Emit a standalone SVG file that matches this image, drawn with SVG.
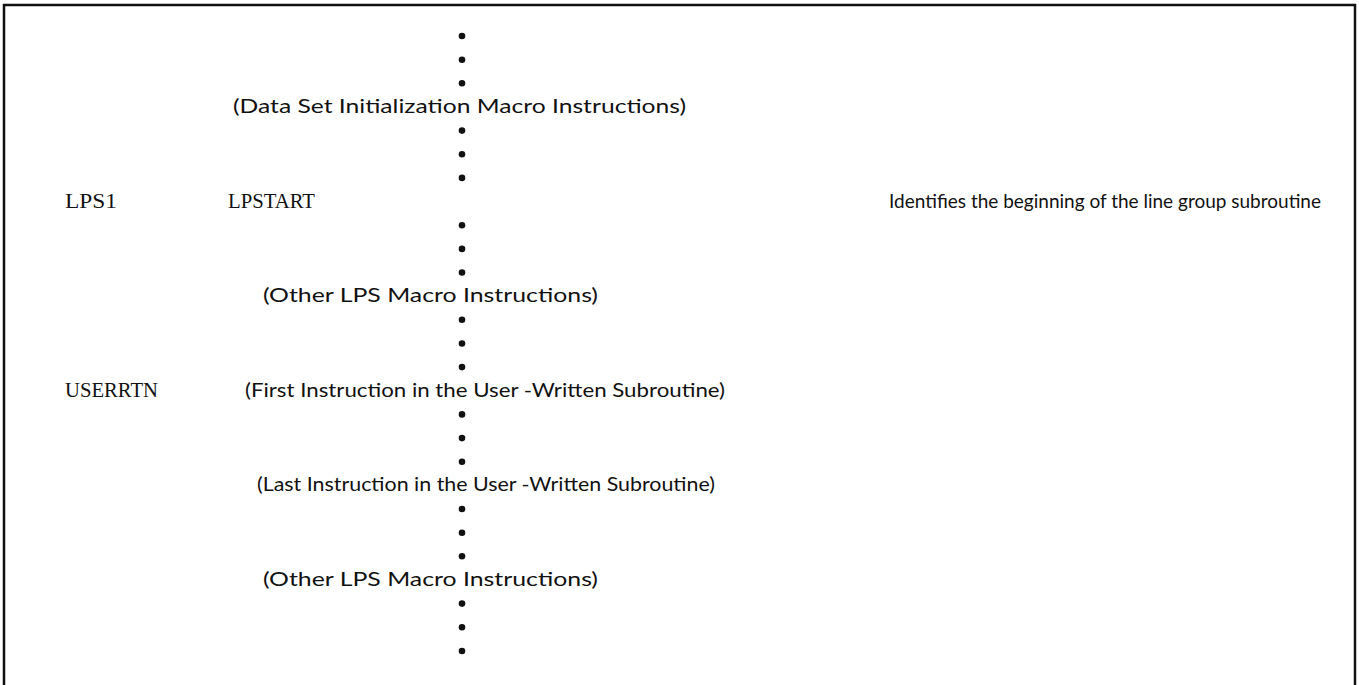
<svg xmlns="http://www.w3.org/2000/svg" width="1359" height="685" viewBox="0 0 1359 685">
  <style>
    .sans { font-family: "Lato", "Liberation Sans", sans-serif; font-size: 19px; fill: #111; }
    .mono { font-family: "Liberation Serif", "DejaVu Serif", serif; font-size: 20px; fill: #111; }
    .dot { fill: #111; }
    .frame { fill: none; stroke: #111; stroke-width: 2.5; }
  </style>
  <rect width="1359" height="685" fill="#fff"/>
  <!-- open frame: left, top and right edges -->
  <path class="frame" d="M4,685 V5 H1355 V685"/>

  <!-- ellipsis dots in the centre column -->
  <g id="dots">
    <circle class="dot" cx="462" cy="36" r="3.3"/>
    <circle class="dot" cx="462" cy="59.7" r="3.3"/>
    <circle class="dot" cx="462" cy="83.3" r="3.3"/>
    <circle class="dot" cx="462" cy="130.6" r="3.3"/>
    <circle class="dot" cx="462" cy="154.3" r="3.3"/>
    <circle class="dot" cx="462" cy="177.9" r="3.3"/>
    <circle class="dot" cx="462" cy="225.2" r="3.3"/>
    <circle class="dot" cx="462" cy="248.9" r="3.3"/>
    <circle class="dot" cx="462" cy="272.5" r="3.3"/>
    <circle class="dot" cx="462" cy="319.8" r="3.3"/>
    <circle class="dot" cx="462" cy="343.5" r="3.3"/>
    <circle class="dot" cx="462" cy="367.1" r="3.3"/>
    <circle class="dot" cx="462" cy="414.4" r="3.3"/>
    <circle class="dot" cx="462" cy="438.1" r="3.3"/>
    <circle class="dot" cx="462" cy="461.7" r="3.3"/>
    <circle class="dot" cx="462" cy="509" r="3.3"/>
    <circle class="dot" cx="462" cy="532.7" r="3.3"/>
    <circle class="dot" cx="462" cy="556.3" r="3.3"/>
    <circle class="dot" cx="462" cy="603.6" r="3.3"/>
    <circle class="dot" cx="462" cy="627.3" r="3.3"/>
    <circle class="dot" cx="462" cy="651" r="3.3"/>
  </g>

  <g id="data-set-init">
    <text class="sans" x="233" y="113" textLength="453" lengthAdjust="spacingAndGlyphs">(Data Set Initialization Macro  Instructions)</text>
  </g>

  <g id="lpstart">
    <text class="mono" x="65" y="208" textLength="52" lengthAdjust="spacingAndGlyphs">LPS1</text>
    <text class="mono" x="228" y="208" textLength="87" lengthAdjust="spacingAndGlyphs">LPSTART</text>
    <text class="sans" x="889" y="208" textLength="432" lengthAdjust="spacingAndGlyphs">Identifies the beginning of the line group subroutine</text>
  </g>

  <g id="other-lps-1">
    <text class="sans" x="263" y="302" textLength="335" lengthAdjust="spacingAndGlyphs">(Other LPS Macro  Instructions)</text>
  </g>

  <g id="userrtn">
    <text class="mono" x="65" y="397" textLength="93" lengthAdjust="spacingAndGlyphs">USERRTN</text>
    <text class="sans" x="245" y="397" textLength="480" lengthAdjust="spacingAndGlyphs">(First Instruction in the User -Written Subroutine)</text>
  </g>

  <g id="last-instruction">
    <text class="sans" x="257" y="491" textLength="458" lengthAdjust="spacingAndGlyphs">(Last Instruction in the User -Written Subroutine)</text>
  </g>

  <g id="other-lps-2">
    <text class="sans" x="263" y="586" textLength="335" lengthAdjust="spacingAndGlyphs">(Other LPS Macro  Instructions)</text>
  </g>
</svg>
